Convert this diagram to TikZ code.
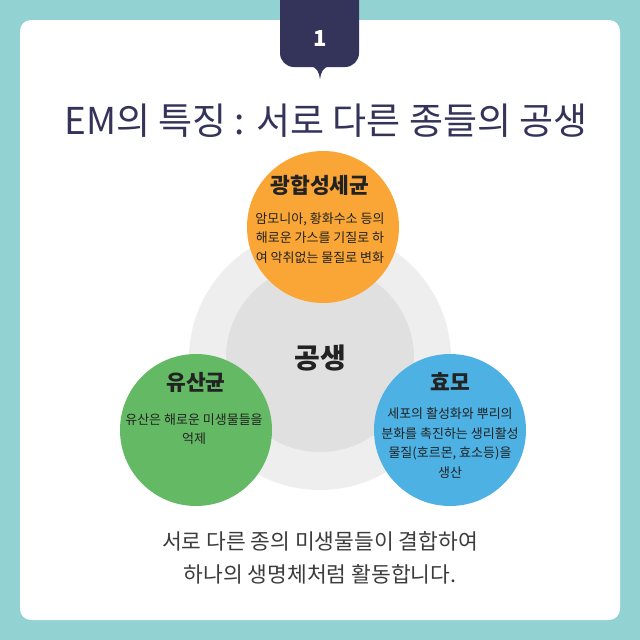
\documentclass[tikz,border=0pt]{standalone}
\usepackage{fontspec}
\setmainfont{Noto Sans CJK KR}
\definecolor{teal}{HTML}{93D2D2}
\definecolor{navy}{HTML}{34345A}
\definecolor{ringout}{HTML}{EEEEEE}
\definecolor{ringin}{HTML}{E0E0E0}
\definecolor{orng}{HTML}{F9A636}
\definecolor{grn}{HTML}{64B964}
\definecolor{blu}{HTML}{4DB1E3}
\definecolor{ink}{HTML}{222222}
\definecolor{bottomink}{HTML}{3C3C3C}
\begin{document}
\begin{tikzpicture}[x=1pt,y=-1pt,
  bubble/.style={circle, inner sep=0pt, minimum size=152pt},
  head/.style={font=\fontsize{21.5}{24}\selectfont\bfseries, text=ink, inner sep=0pt},
  body/.style={font=\fontsize{13}{19.5}\selectfont, align=center, text=ink, inner sep=0pt},
  bottomtext/.style={font=\fontsize{21.5}{33}\selectfont, align=center, text=bottomink, inner sep=0pt}]
\fill[teal] (0,0) rectangle (640,640);
\useasboundingbox (0,0) rectangle (640,640);
\fill[white, rounded corners=11pt] (20,20) rectangle (620,620);
% tab
\begin{scope}
\clip (0,0) rectangle (640,640);
\fill[navy, rounded corners=14pt] (280,-20) rectangle (359,67);
\end{scope}
\fill[navy] (311,66) .. controls (317,68) and (319,72) .. (320,79)
  .. controls (321,72) and (323,68) .. (329,66) -- cycle;
\node[font=\fontsize{22}{24}\selectfont\bfseries, text=white] (num) at (320,39) {1};
\node[font=\fontsize{37}{40}\selectfont, text=navy] (title) at (326,121) {EM의 특징 : 서로 다른 종들의 공생};
% rings
\node[bubble, fill=ringout, minimum size=262pt] (ring) at (320,359) {};
\node[bubble, fill=ringin, minimum size=188pt] (core) at (320,358) {};
\node[font=\fontsize{28}{30}\selectfont\bfseries, text=ink] (sym) at (320,358) {공생};
% bubbles
\node[bubble, fill=orng] (photo) at (323,227) {};
\node[bubble, fill=grn] (lact) at (196,430) {};
\node[bubble, fill=blu] (yeast) at (450,430) {};
\node[head] (photoh) at (320,185) {광합성세균};
\node[body] (photob) at (320,238) {암모니아, 황화수소 등의\\해로운 가스를 기질로 하\\여 악취없는 물질로 변화};
\node[head] (lacth) at (196,382) {유산균};
\node[body] (lactb) at (194,429) {유산은 해로운 미생물들을\\억제};
\node[head] (yeasth) at (450,382) {효모};
\node[body] (yeastb) at (450,443) {세포의 활성화와 뿌리의\\분화를 촉진하는 생리활성\\물질(호르몬, 효소등)을\\생산};
\node[bottomtext] (foot) at (320,558) {서로 다른 종의 미생물들이 결합하여\\하나의 생명체처럼 활동합니다.};
\end{tikzpicture}
\end{document}
